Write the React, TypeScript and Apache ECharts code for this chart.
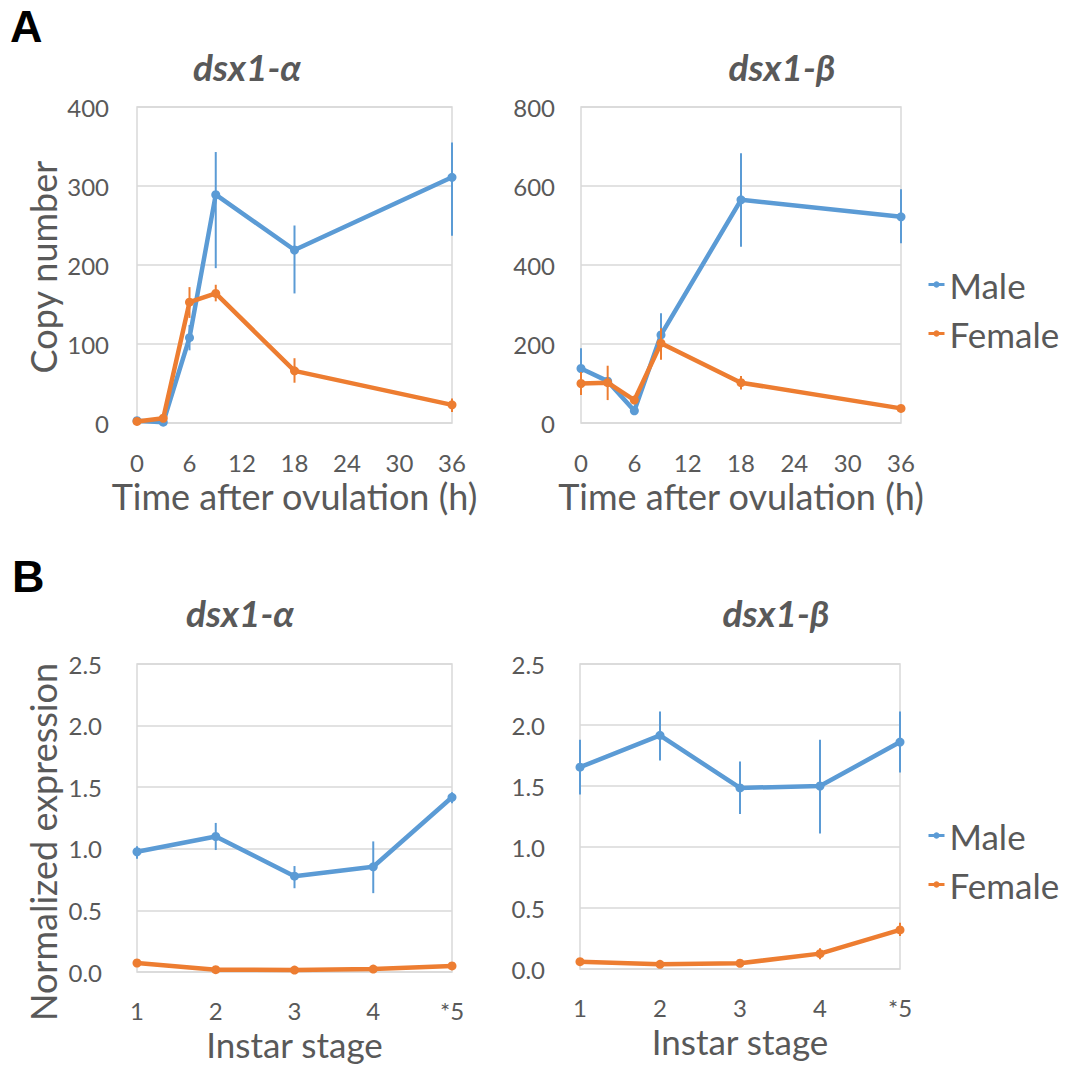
import React, { useEffect, useRef } from "react";
import * as echarts from "echarts";

// ---- Panel A: copy number vs time after ovulation ----
const hoursA = [0, 3, 6, 9, 18, 36];
const hourTicks = [0, 6, 12, 18, 24, 30, 36];

const a1Male = [3, 1, 108, 289, 219, 311];
const a1MaleLo = [1, 0, 92, 196, 164, 237];
const a1MaleHi = [5, 3, 124, 343, 250, 355];
const a1Female = [2, 6, 153, 164, 66, 23];
const a1FemaleLo = [1, 4, 133, 154, 51, 14];
const a1FemaleHi = [3, 8, 172, 175, 82, 31];

const a2Male = [138, 106, 31, 223, 565, 522];
const a2MaleLo = [87, 100, 25, 168, 446, 455];
const a2MaleHi = [189, 112, 37, 278, 683, 592];
const a2Female = [100, 102, 58, 202, 102, 37];
const a2FemaleLo = [71, 58, 52, 160, 85, 32];
const a2FemaleHi = [129, 145, 64, 240, 119, 42];

// ---- Panel B: normalized expression vs instar stage ----
const instarStages = ["1", "2", "3", "4", "*5"];

const b1Male = [0.976, 1.1, 0.778, 0.854, 1.418];
const b1MaleLo = [0.92, 0.99, 0.68, 0.64, 1.37];
const b1MaleHi = [1.02, 1.21, 0.86, 1.06, 1.46];
const b1Female = [0.073, 0.019, 0.016, 0.024, 0.049];
const b1FemaleLo = [0.065, 0.014, 0.012, 0.018, 0.042];
const b1FemaleHi = [0.081, 0.024, 0.02, 0.03, 0.056];

const b2Male = [1.654, 1.915, 1.484, 1.5, 1.86];
const b2MaleLo = [1.43, 1.71, 1.27, 1.11, 1.61];
const b2MaleHi = [1.88, 2.11, 1.7, 1.88, 2.11];
const b2Female = [0.06, 0.038, 0.047, 0.126, 0.32];
const b2FemaleLo = [0.05, 0.03, 0.04, 0.08, 0.27];
const b2FemaleHi = [0.07, 0.046, 0.054, 0.17, 0.38];

const titleAlpha = "dsx1-α";
const titleBeta = "dsx1-β";

const MALE = "#5b9bd5";
const FEMALE = "#ed7d31";
const TXT = "#595959";
const GRID = "#d9d9d9";
const FONT = "Lato";

function errRender(color: string) {
  return (_params: any, api: any) => {
    const p1 = api.coord([api.value(0), api.value(1)]);
    const p2 = api.coord([api.value(0), api.value(2)]);
    return {
      type: "line",
      shape: { x1: p1[0], y1: p1[1], x2: p2[0], y2: p2[1] },
      style: { stroke: color, lineWidth: 2 },
    };
  };
}

export default function App() {
  const ref = useRef<HTMLDivElement>(null);

  useEffect(() => {
    document.body.style.margin = "0";
    if (!ref.current) return;
    const chart = echarts.init(ref.current, undefined, { renderer: "svg" });

    const grids = [
      { left: 137, top: 107, width: 315, height: 316 },
      { left: 581, top: 107, width: 320, height: 316 },
      { left: 137, top: 664, width: 315, height: 308 },
      { left: 580, top: 664, width: 320, height: 305 },
    ].map((g) => ({
      ...g,
      show: true,
      borderColor: GRID,
      borderWidth: 1.5,
      backgroundColor: "transparent",
    }));

    const labelStyle = { color: TXT, fontFamily: FONT, fontSize: 24 };
    const nameStyle = { color: TXT, fontFamily: FONT, fontSize: 36 };

    const xValueAxis = (gi: number) => ({
      type: "value",
      gridIndex: gi,
      min: hourTicks[0],
      max: hourTicks[hourTicks.length - 1],
      interval: hourTicks[1] - hourTicks[0],
      axisLine: { show: false },
      axisTick: { show: false },
      splitLine: { show: false },
      axisLabel: { ...labelStyle, margin: 27 },
      name: "Time after ovulation (h)",
      nameLocation: "middle",
      nameGap: 55,
      nameTextStyle: nameStyle,
    });
    const xCatAxis = (gi: number) => ({
      type: "category",
      gridIndex: gi,
      data: instarStages,
      boundaryGap: false,
      axisLine: { show: false },
      axisTick: { show: false },
      splitLine: { show: false },
      axisLabel: { ...labelStyle, margin: 26 },
      name: "Instar stage",
      nameLocation: "middle",
      nameGap: 54,
      nameTextStyle: { ...nameStyle, fontSize: 35 },
    });
    const yAxis = (gi: number, max: number, interval: number, margin: number, dec: boolean) => ({
      type: "value",
      gridIndex: gi,
      min: 0,
      max,
      interval,
      axisLine: { show: false },
      axisTick: { show: false },
      splitLine: { lineStyle: { color: GRID, width: 1.5 } },
      axisLabel: {
        ...labelStyle,
        margin,
        formatter: (v: number) => (dec ? v.toFixed(1) : String(v)),
      },
    });

    const lineSeries = (name: string, color: string, gi: number, data: any[]) => ({
      type: "line",
      name,
      xAxisIndex: gi,
      yAxisIndex: gi,
      data,
      symbol: "circle",
      symbolSize: 9,
      showSymbol: true,
      lineStyle: { color, width: 4.5 },
      itemStyle: { color },
      z: name === "Female" ? 4 : 3,
    });
    const errSeries = (name: string, color: string, gi: number, data: any[]) => ({
      type: "custom",
      name,
      xAxisIndex: gi,
      yAxisIndex: gi,
      data,
      encode: { x: 0, y: [1, 2] },
      renderItem: errRender(color),
      z: name.startsWith("Female") ? 4 : 3,
      silent: true,
    });

    const pairA = (vals: number[]) => hoursA.map((h, i) => [h, vals[i]]);
    const errA = (lo: number[], hi: number[]) => hoursA.map((h, i) => [h, lo[i], hi[i]]);
    const errB = (lo: number[], hi: number[]) => instarStages.map((_c, i) => [i, lo[i], hi[i]]);

    const series = [
      errSeries("Male err A1", MALE, 0, errA(a1MaleLo, a1MaleHi)),
      lineSeries("Male", MALE, 0, pairA(a1Male)),
      errSeries("Female err A1", FEMALE, 0, errA(a1FemaleLo, a1FemaleHi)),
      lineSeries("Female", FEMALE, 0, pairA(a1Female)),

      errSeries("Male err A2", MALE, 1, errA(a2MaleLo, a2MaleHi)),
      lineSeries("Male", MALE, 1, pairA(a2Male)),
      errSeries("Female err A2", FEMALE, 1, errA(a2FemaleLo, a2FemaleHi)),
      lineSeries("Female", FEMALE, 1, pairA(a2Female)),

      errSeries("Male err B1", MALE, 2, errB(b1MaleLo, b1MaleHi)),
      lineSeries("Male", MALE, 2, b1Male),
      errSeries("Female err B1", FEMALE, 2, errB(b1FemaleLo, b1FemaleHi)),
      lineSeries("Female", FEMALE, 2, b1Female),

      errSeries("Male err B2", MALE, 3, errB(b2MaleLo, b2MaleHi)),
      lineSeries("Male", MALE, 3, b2Male),
      errSeries("Female err B2", FEMALE, 3, errB(b2FemaleLo, b2FemaleHi)),
      lineSeries("Female", FEMALE, 3, b2Female),
    ];

    const legendBase = {
      orient: "vertical",
      data: ["Male", "Female"],
      left: 922,
      itemWidth: 16,
      itemHeight: 8,
      itemGap: 14,
      selectedMode: false,
      textStyle: { color: TXT, fontFamily: FONT, fontSize: 35 },
      lineStyle: { width: 3 },
    };

    const titleStyle = {
      color: TXT,
      fontFamily: FONT,
      fontSize: 37,
      fontWeight: "bold",
      fontStyle: "italic",
    };
    const mkTitle = (text: string, x: number, y: number) => ({
      text,
      left: x,
      top: y,
      textAlign: "center",
      padding: 0,
      textStyle: titleStyle,
    });

    const option: any = {
      animation: false,
      backgroundColor: "#ffffff",
      title: [
        mkTitle(titleAlpha, 247, 48),
        mkTitle(titleBeta, 782, 48),
        mkTitle(titleAlpha, 240, 594),
        mkTitle(titleBeta, 776, 594),
      ],
      legend: [
        { ...legendBase, top: 262 },
        { ...legendBase, top: 813 },
      ],
      grid: grids,
      xAxis: [xValueAxis(0), xValueAxis(1), xCatAxis(2), xCatAxis(3)],
      yAxis: [
        yAxis(0, 400, 100, 28, false),
        yAxis(1, 800, 200, 26, false),
        yAxis(2, 2.5, 0.5, 35, true),
        yAxis(3, 2.5, 0.5, 35, true),
      ],
      series,
      graphic: [
        {
          type: "text",
          left: 10,
          top: 4,
          style: { text: "A", fill: "#000", font: "bold 45px 'Liberation Sans', Arial, sans-serif" },
        },
        {
          type: "text",
          left: 12,
          top: 554,
          style: { text: "B", fill: "#000", font: "bold 45px 'Liberation Sans', Arial, sans-serif" },
        },
        {
          type: "text",
          x: 43,
          y: 267,
          rotation: Math.PI / 2,
          style: {
            text: "Copy number",
            fill: TXT,
            font: `36px ${FONT}`,
            align: "center",
            verticalAlign: "middle",
          },
        },
        {
          type: "text",
          x: 43,
          y: 842,
          rotation: Math.PI / 2,
          style: {
            text: "Normalized expression",
            fill: TXT,
            font: `36px ${FONT}`,
            align: "center",
            verticalAlign: "middle",
          },
        },
      ],
    };

    chart.setOption(option);
    return () => chart.dispose();
  }, []);

  return <div ref={ref} style={{ width: 1075, height: 1067 }} />;
}
